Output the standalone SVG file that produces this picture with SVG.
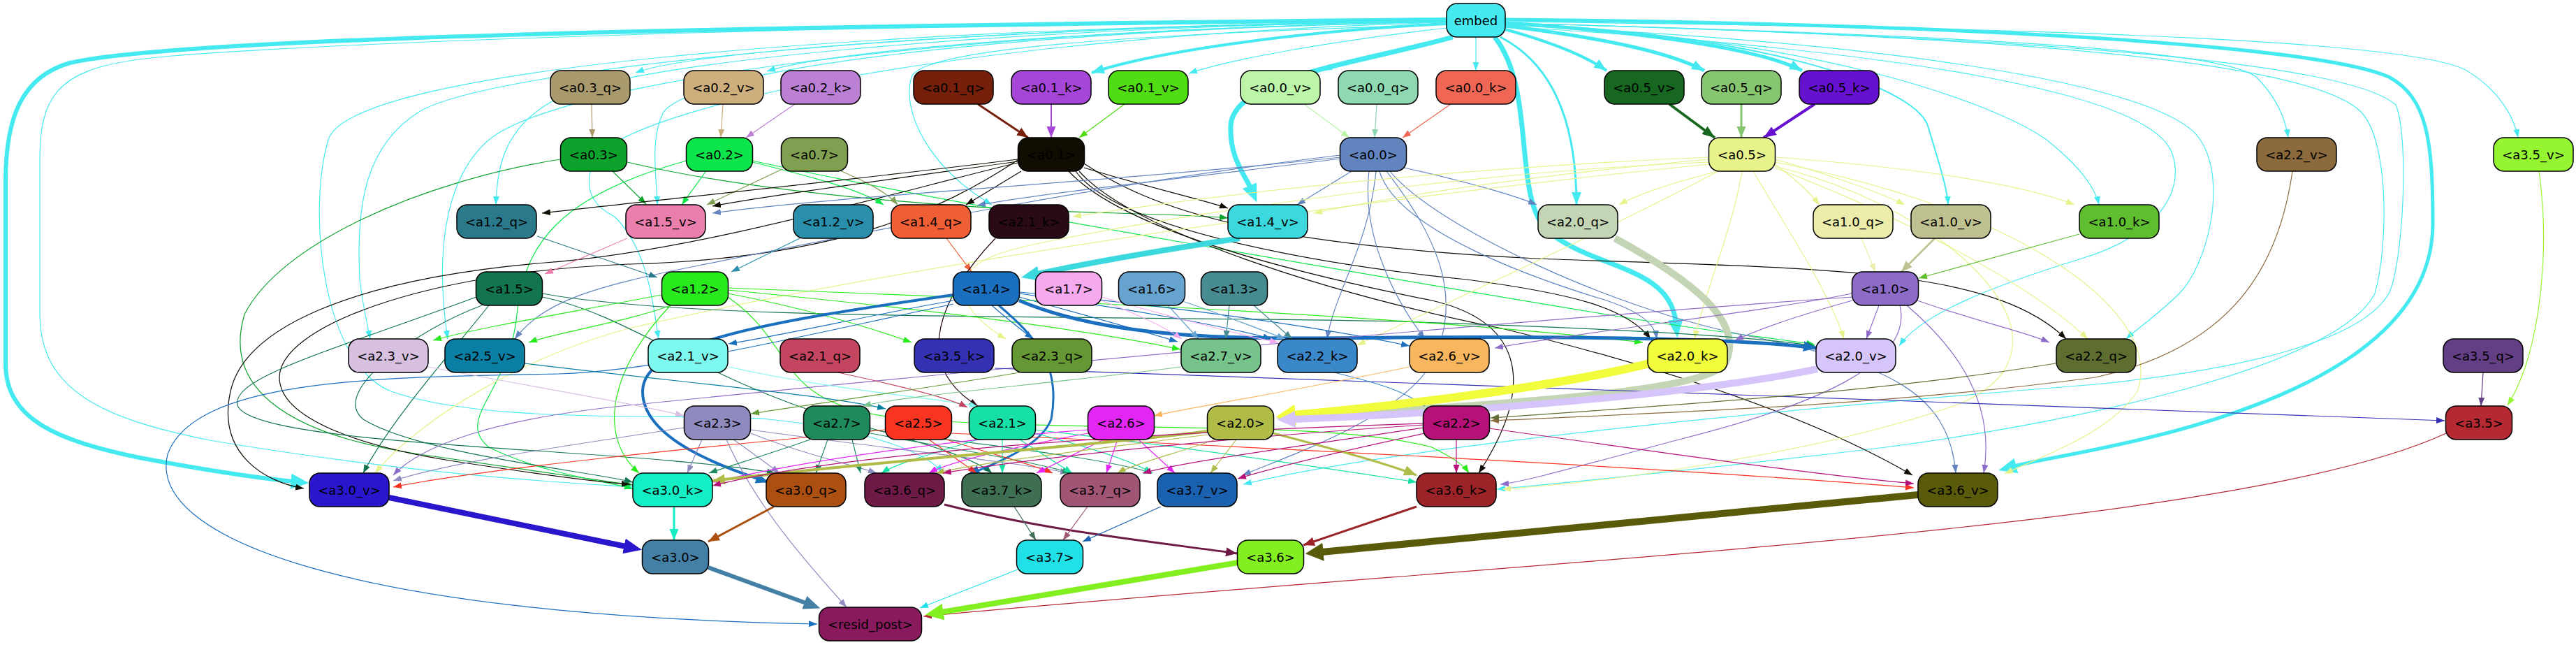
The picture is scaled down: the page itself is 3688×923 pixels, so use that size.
<svg xmlns="http://www.w3.org/2000/svg" width="3688" height="923" viewBox="0 0 3688 923">
<style>
.n rect{stroke:#000;stroke-width:1.5}
.n text{font-family:"DejaVu Sans","Liberation Sans",sans-serif;font-size:18px;text-anchor:middle;dominant-baseline:central;fill:#000}
</style>
<defs>
<marker id="s_embed" viewBox="0 0 10 10" refX="10" refY="5" markerWidth="12" markerHeight="9" markerUnits="userSpaceOnUse" orient="auto" preserveAspectRatio="none"><path d="M0,0L10,5L0,10z" fill="#45e9f0"/></marker>
<marker id="m_embed" viewBox="0 0 10 10" refX="10" refY="5" markerWidth="18" markerHeight="14" markerUnits="userSpaceOnUse" orient="auto" preserveAspectRatio="none"><path d="M0,0L10,5L0,10z" fill="#45e9f0"/></marker>
<marker id="l_embed" viewBox="0 0 10 10" refX="1" refY="5" markerWidth="26" markerHeight="22" markerUnits="userSpaceOnUse" orient="auto" preserveAspectRatio="none"><path d="M0,0L10,5L0,10z" fill="#45e9f0"/></marker>
<marker id="s_a03q" viewBox="0 0 10 10" refX="10" refY="5" markerWidth="12" markerHeight="9" markerUnits="userSpaceOnUse" orient="auto" preserveAspectRatio="none"><path d="M0,0L10,5L0,10z" fill="#a89a6c"/></marker>
<marker id="s_a02v" viewBox="0 0 10 10" refX="10" refY="5" markerWidth="12" markerHeight="9" markerUnits="userSpaceOnUse" orient="auto" preserveAspectRatio="none"><path d="M0,0L10,5L0,10z" fill="#cdae7d"/></marker>
<marker id="s_a02k" viewBox="0 0 10 10" refX="10" refY="5" markerWidth="12" markerHeight="9" markerUnits="userSpaceOnUse" orient="auto" preserveAspectRatio="none"><path d="M0,0L10,5L0,10z" fill="#bb7fd4"/></marker>
<marker id="m_a01q" viewBox="0 0 10 10" refX="10" refY="5" markerWidth="16" markerHeight="13" markerUnits="userSpaceOnUse" orient="auto" preserveAspectRatio="none"><path d="M0,0L10,5L0,10z" fill="#76200c"/></marker>
<marker id="m_a01k" viewBox="0 0 10 10" refX="10" refY="5" markerWidth="16" markerHeight="13" markerUnits="userSpaceOnUse" orient="auto" preserveAspectRatio="none"><path d="M0,0L10,5L0,10z" fill="#a646d9"/></marker>
<marker id="s_a01v" viewBox="0 0 10 10" refX="10" refY="5" markerWidth="12" markerHeight="9" markerUnits="userSpaceOnUse" orient="auto" preserveAspectRatio="none"><path d="M0,0L10,5L0,10z" fill="#50dd14"/></marker>
<marker id="s_a00v" viewBox="0 0 10 10" refX="10" refY="5" markerWidth="12" markerHeight="9" markerUnits="userSpaceOnUse" orient="auto" preserveAspectRatio="none"><path d="M0,0L10,5L0,10z" fill="#bcf4a8"/></marker>
<marker id="s_a00q" viewBox="0 0 10 10" refX="10" refY="5" markerWidth="12" markerHeight="9" markerUnits="userSpaceOnUse" orient="auto" preserveAspectRatio="none"><path d="M0,0L10,5L0,10z" fill="#8ed8b2"/></marker>
<marker id="s_a00k" viewBox="0 0 10 10" refX="10" refY="5" markerWidth="12" markerHeight="9" markerUnits="userSpaceOnUse" orient="auto" preserveAspectRatio="none"><path d="M0,0L10,5L0,10z" fill="#f06654"/></marker>
<marker id="m_a05v" viewBox="0 0 10 10" refX="10" refY="5" markerWidth="18" markerHeight="14" markerUnits="userSpaceOnUse" orient="auto" preserveAspectRatio="none"><path d="M0,0L10,5L0,10z" fill="#176721"/></marker>
<marker id="m_a05q" viewBox="0 0 10 10" refX="10" refY="5" markerWidth="16" markerHeight="13" markerUnits="userSpaceOnUse" orient="auto" preserveAspectRatio="none"><path d="M0,0L10,5L0,10z" fill="#86c670"/></marker>
<marker id="m_a05k" viewBox="0 0 10 10" refX="10" refY="5" markerWidth="18" markerHeight="14" markerUnits="userSpaceOnUse" orient="auto" preserveAspectRatio="none"><path d="M0,0L10,5L0,10z" fill="#6610d0"/></marker>
<marker id="s_a03" viewBox="0 0 10 10" refX="10" refY="5" markerWidth="12" markerHeight="9" markerUnits="userSpaceOnUse" orient="auto" preserveAspectRatio="none"><path d="M0,0L10,5L0,10z" fill="#0ca22c"/></marker>
<marker id="s_a02" viewBox="0 0 10 10" refX="10" refY="5" markerWidth="12" markerHeight="9" markerUnits="userSpaceOnUse" orient="auto" preserveAspectRatio="none"><path d="M0,0L10,5L0,10z" fill="#0ce64a"/></marker>
<marker id="s_a07" viewBox="0 0 10 10" refX="10" refY="5" markerWidth="12" markerHeight="9" markerUnits="userSpaceOnUse" orient="auto" preserveAspectRatio="none"><path d="M0,0L10,5L0,10z" fill="#819f51"/></marker>
<marker id="s_a01" viewBox="0 0 10 10" refX="10" refY="5" markerWidth="12" markerHeight="9" markerUnits="userSpaceOnUse" orient="auto" preserveAspectRatio="none"><path d="M0,0L10,5L0,10z" fill="#120d02"/></marker>
<marker id="s_a00" viewBox="0 0 10 10" refX="10" refY="5" markerWidth="12" markerHeight="9" markerUnits="userSpaceOnUse" orient="auto" preserveAspectRatio="none"><path d="M0,0L10,5L0,10z" fill="#6285c0"/></marker>
<marker id="s_a05" viewBox="0 0 10 10" refX="10" refY="5" markerWidth="12" markerHeight="9" markerUnits="userSpaceOnUse" orient="auto" preserveAspectRatio="none"><path d="M0,0L10,5L0,10z" fill="#e8f28a"/></marker>
<marker id="s_a22v" viewBox="0 0 10 10" refX="10" refY="5" markerWidth="12" markerHeight="9" markerUnits="userSpaceOnUse" orient="auto" preserveAspectRatio="none"><path d="M0,0L10,5L0,10z" fill="#8b6a3e"/></marker>
<marker id="s_a35v" viewBox="0 0 10 10" refX="10" refY="5" markerWidth="12" markerHeight="9" markerUnits="userSpaceOnUse" orient="auto" preserveAspectRatio="none"><path d="M0,0L10,5L0,10z" fill="#95f533"/></marker>
<marker id="s_a12q" viewBox="0 0 10 10" refX="10" refY="5" markerWidth="12" markerHeight="9" markerUnits="userSpaceOnUse" orient="auto" preserveAspectRatio="none"><path d="M0,0L10,5L0,10z" fill="#2a7a8b"/></marker>
<marker id="s_a15v" viewBox="0 0 10 10" refX="10" refY="5" markerWidth="12" markerHeight="9" markerUnits="userSpaceOnUse" orient="auto" preserveAspectRatio="none"><path d="M0,0L10,5L0,10z" fill="#ea7fae"/></marker>
<marker id="s_a12v" viewBox="0 0 10 10" refX="10" refY="5" markerWidth="12" markerHeight="9" markerUnits="userSpaceOnUse" orient="auto" preserveAspectRatio="none"><path d="M0,0L10,5L0,10z" fill="#2a8fab"/></marker>
<marker id="s_a14q" viewBox="0 0 10 10" refX="10" refY="5" markerWidth="12" markerHeight="9" markerUnits="userSpaceOnUse" orient="auto" preserveAspectRatio="none"><path d="M0,0L10,5L0,10z" fill="#f05e36"/></marker>
<marker id="s_a21k" viewBox="0 0 10 10" refX="10" refY="5" markerWidth="12" markerHeight="9" markerUnits="userSpaceOnUse" orient="auto" preserveAspectRatio="none"><path d="M0,0L10,5L0,10z" fill="#2a0a16"/></marker>
<marker id="l_a14v" viewBox="0 0 10 10" refX="1" refY="5" markerWidth="26" markerHeight="22" markerUnits="userSpaceOnUse" orient="auto" preserveAspectRatio="none"><path d="M0,0L10,5L0,10z" fill="#3bd8de"/></marker>
<marker id="l_a20q" viewBox="0 0 10 10" refX="1" refY="5" markerWidth="26" markerHeight="24" markerUnits="userSpaceOnUse" orient="auto" preserveAspectRatio="none"><path d="M0,0L10,5L0,10z" fill="#c4d5b6"/></marker>
<marker id="s_a10q" viewBox="0 0 10 10" refX="10" refY="5" markerWidth="12" markerHeight="9" markerUnits="userSpaceOnUse" orient="auto" preserveAspectRatio="none"><path d="M0,0L10,5L0,10z" fill="#ecedab"/></marker>
<marker id="m_a10v" viewBox="0 0 10 10" refX="10" refY="5" markerWidth="16" markerHeight="13" markerUnits="userSpaceOnUse" orient="auto" preserveAspectRatio="none"><path d="M0,0L10,5L0,10z" fill="#c0c190"/></marker>
<marker id="s_a10k" viewBox="0 0 10 10" refX="10" refY="5" markerWidth="12" markerHeight="9" markerUnits="userSpaceOnUse" orient="auto" preserveAspectRatio="none"><path d="M0,0L10,5L0,10z" fill="#5fbd30"/></marker>
<marker id="s_a15" viewBox="0 0 10 10" refX="10" refY="5" markerWidth="12" markerHeight="9" markerUnits="userSpaceOnUse" orient="auto" preserveAspectRatio="none"><path d="M0,0L10,5L0,10z" fill="#137550"/></marker>
<marker id="s_a12" viewBox="0 0 10 10" refX="10" refY="5" markerWidth="12" markerHeight="9" markerUnits="userSpaceOnUse" orient="auto" preserveAspectRatio="none"><path d="M0,0L10,5L0,10z" fill="#29ea1c"/></marker>
<marker id="s_a14" viewBox="0 0 10 10" refX="10" refY="5" markerWidth="12" markerHeight="9" markerUnits="userSpaceOnUse" orient="auto" preserveAspectRatio="none"><path d="M0,0L10,5L0,10z" fill="#1a6fbf"/></marker>
<marker id="m_a14" viewBox="0 0 10 10" refX="10" refY="5" markerWidth="18" markerHeight="15" markerUnits="userSpaceOnUse" orient="auto" preserveAspectRatio="none"><path d="M0,0L10,5L0,10z" fill="#1a6fbf"/></marker>
<marker id="s_a17" viewBox="0 0 10 10" refX="10" refY="5" markerWidth="12" markerHeight="9" markerUnits="userSpaceOnUse" orient="auto" preserveAspectRatio="none"><path d="M0,0L10,5L0,10z" fill="#f5a9ee"/></marker>
<marker id="s_a16" viewBox="0 0 10 10" refX="10" refY="5" markerWidth="12" markerHeight="9" markerUnits="userSpaceOnUse" orient="auto" preserveAspectRatio="none"><path d="M0,0L10,5L0,10z" fill="#66a3cf"/></marker>
<marker id="s_a13" viewBox="0 0 10 10" refX="10" refY="5" markerWidth="12" markerHeight="9" markerUnits="userSpaceOnUse" orient="auto" preserveAspectRatio="none"><path d="M0,0L10,5L0,10z" fill="#468c91"/></marker>
<marker id="s_a10" viewBox="0 0 10 10" refX="10" refY="5" markerWidth="12" markerHeight="9" markerUnits="userSpaceOnUse" orient="auto" preserveAspectRatio="none"><path d="M0,0L10,5L0,10z" fill="#8d6cc8"/></marker>
<marker id="s_a23v" viewBox="0 0 10 10" refX="10" refY="5" markerWidth="12" markerHeight="9" markerUnits="userSpaceOnUse" orient="auto" preserveAspectRatio="none"><path d="M0,0L10,5L0,10z" fill="#d7c0e0"/></marker>
<marker id="s_a25v" viewBox="0 0 10 10" refX="10" refY="5" markerWidth="12" markerHeight="9" markerUnits="userSpaceOnUse" orient="auto" preserveAspectRatio="none"><path d="M0,0L10,5L0,10z" fill="#0a7fa3"/></marker>
<marker id="s_a21v" viewBox="0 0 10 10" refX="10" refY="5" markerWidth="12" markerHeight="9" markerUnits="userSpaceOnUse" orient="auto" preserveAspectRatio="none"><path d="M0,0L10,5L0,10z" fill="#7ef9ef"/></marker>
<marker id="s_a21q" viewBox="0 0 10 10" refX="10" refY="5" markerWidth="12" markerHeight="9" markerUnits="userSpaceOnUse" orient="auto" preserveAspectRatio="none"><path d="M0,0L10,5L0,10z" fill="#c3455f"/></marker>
<marker id="s_a35k" viewBox="0 0 10 10" refX="10" refY="5" markerWidth="12" markerHeight="9" markerUnits="userSpaceOnUse" orient="auto" preserveAspectRatio="none"><path d="M0,0L10,5L0,10z" fill="#3531b3"/></marker>
<marker id="s_a23q" viewBox="0 0 10 10" refX="10" refY="5" markerWidth="12" markerHeight="9" markerUnits="userSpaceOnUse" orient="auto" preserveAspectRatio="none"><path d="M0,0L10,5L0,10z" fill="#659834"/></marker>
<marker id="s_a27v" viewBox="0 0 10 10" refX="10" refY="5" markerWidth="12" markerHeight="9" markerUnits="userSpaceOnUse" orient="auto" preserveAspectRatio="none"><path d="M0,0L10,5L0,10z" fill="#77c38c"/></marker>
<marker id="s_a22k" viewBox="0 0 10 10" refX="10" refY="5" markerWidth="12" markerHeight="9" markerUnits="userSpaceOnUse" orient="auto" preserveAspectRatio="none"><path d="M0,0L10,5L0,10z" fill="#3a87c9"/></marker>
<marker id="s_a26v" viewBox="0 0 10 10" refX="10" refY="5" markerWidth="12" markerHeight="9" markerUnits="userSpaceOnUse" orient="auto" preserveAspectRatio="none"><path d="M0,0L10,5L0,10z" fill="#f8b65e"/></marker>
<marker id="l_a20k" viewBox="0 0 10 10" refX="1" refY="5" markerWidth="28" markerHeight="30" markerUnits="userSpaceOnUse" orient="auto" preserveAspectRatio="none"><path d="M0,0L10,5L0,10z" fill="#f0fc3c"/></marker>
<marker id="l_a20v" viewBox="0 0 10 10" refX="1" refY="5" markerWidth="26" markerHeight="24" markerUnits="userSpaceOnUse" orient="auto" preserveAspectRatio="none"><path d="M0,0L10,5L0,10z" fill="#d6c5fa"/></marker>
<marker id="s_a22q" viewBox="0 0 10 10" refX="10" refY="5" markerWidth="12" markerHeight="9" markerUnits="userSpaceOnUse" orient="auto" preserveAspectRatio="none"><path d="M0,0L10,5L0,10z" fill="#5e6e31"/></marker>
<marker id="s_a35q" viewBox="0 0 10 10" refX="10" refY="5" markerWidth="12" markerHeight="9" markerUnits="userSpaceOnUse" orient="auto" preserveAspectRatio="none"><path d="M0,0L10,5L0,10z" fill="#633f86"/></marker>
<marker id="s_a23" viewBox="0 0 10 10" refX="10" refY="5" markerWidth="12" markerHeight="9" markerUnits="userSpaceOnUse" orient="auto" preserveAspectRatio="none"><path d="M0,0L10,5L0,10z" fill="#8f8bbf"/></marker>
<marker id="s_a27" viewBox="0 0 10 10" refX="10" refY="5" markerWidth="12" markerHeight="9" markerUnits="userSpaceOnUse" orient="auto" preserveAspectRatio="none"><path d="M0,0L10,5L0,10z" fill="#1f8a5c"/></marker>
<marker id="s_a25" viewBox="0 0 10 10" refX="10" refY="5" markerWidth="12" markerHeight="9" markerUnits="userSpaceOnUse" orient="auto" preserveAspectRatio="none"><path d="M0,0L10,5L0,10z" fill="#f93522"/></marker>
<marker id="s_a21" viewBox="0 0 10 10" refX="10" refY="5" markerWidth="12" markerHeight="9" markerUnits="userSpaceOnUse" orient="auto" preserveAspectRatio="none"><path d="M0,0L10,5L0,10z" fill="#16e0a6"/></marker>
<marker id="s_a26" viewBox="0 0 10 10" refX="10" refY="5" markerWidth="12" markerHeight="9" markerUnits="userSpaceOnUse" orient="auto" preserveAspectRatio="none"><path d="M0,0L10,5L0,10z" fill="#e326f4"/></marker>
<marker id="s_a20" viewBox="0 0 10 10" refX="10" refY="5" markerWidth="12" markerHeight="9" markerUnits="userSpaceOnUse" orient="auto" preserveAspectRatio="none"><path d="M0,0L10,5L0,10z" fill="#b0bb48"/></marker>
<marker id="m_a20" viewBox="0 0 10 10" refX="10" refY="5" markerWidth="18" markerHeight="15" markerUnits="userSpaceOnUse" orient="auto" preserveAspectRatio="none"><path d="M0,0L10,5L0,10z" fill="#b0bb48"/></marker>
<marker id="s_a22" viewBox="0 0 10 10" refX="10" refY="5" markerWidth="12" markerHeight="9" markerUnits="userSpaceOnUse" orient="auto" preserveAspectRatio="none"><path d="M0,0L10,5L0,10z" fill="#b51178"/></marker>
<marker id="s_a35" viewBox="0 0 10 10" refX="10" refY="5" markerWidth="12" markerHeight="9" markerUnits="userSpaceOnUse" orient="auto" preserveAspectRatio="none"><path d="M0,0L10,5L0,10z" fill="#b42932"/></marker>
<marker id="l_a30v" viewBox="0 0 10 10" refX="1" refY="5" markerWidth="26" markerHeight="22" markerUnits="userSpaceOnUse" orient="auto" preserveAspectRatio="none"><path d="M0,0L10,5L0,10z" fill="#2a16cc"/></marker>
<marker id="m_a30k" viewBox="0 0 10 10" refX="10" refY="5" markerWidth="16" markerHeight="13" markerUnits="userSpaceOnUse" orient="auto" preserveAspectRatio="none"><path d="M0,0L10,5L0,10z" fill="#14eec4"/></marker>
<marker id="m_a30q" viewBox="0 0 10 10" refX="10" refY="5" markerWidth="16" markerHeight="13" markerUnits="userSpaceOnUse" orient="auto" preserveAspectRatio="none"><path d="M0,0L10,5L0,10z" fill="#ac5012"/></marker>
<marker id="m_a36q" viewBox="0 0 10 10" refX="10" refY="5" markerWidth="16" markerHeight="13" markerUnits="userSpaceOnUse" orient="auto" preserveAspectRatio="none"><path d="M0,0L10,5L0,10z" fill="#6e1a46"/></marker>
<marker id="m_a36k" viewBox="0 0 10 10" refX="10" refY="5" markerWidth="16" markerHeight="13" markerUnits="userSpaceOnUse" orient="auto" preserveAspectRatio="none"><path d="M0,0L10,5L0,10z" fill="#9c2428"/></marker>
<marker id="l_a36v" viewBox="0 0 10 10" refX="1" refY="5" markerWidth="26" markerHeight="26" markerUnits="userSpaceOnUse" orient="auto" preserveAspectRatio="none"><path d="M0,0L10,5L0,10z" fill="#5a5a0b"/></marker>
<marker id="s_a37k" viewBox="0 0 10 10" refX="10" refY="5" markerWidth="12" markerHeight="9" markerUnits="userSpaceOnUse" orient="auto" preserveAspectRatio="none"><path d="M0,0L10,5L0,10z" fill="#3f6f53"/></marker>
<marker id="s_a37q" viewBox="0 0 10 10" refX="10" refY="5" markerWidth="12" markerHeight="9" markerUnits="userSpaceOnUse" orient="auto" preserveAspectRatio="none"><path d="M0,0L10,5L0,10z" fill="#a05575"/></marker>
<marker id="s_a37v" viewBox="0 0 10 10" refX="10" refY="5" markerWidth="12" markerHeight="9" markerUnits="userSpaceOnUse" orient="auto" preserveAspectRatio="none"><path d="M0,0L10,5L0,10z" fill="#1a61b0"/></marker>
<marker id="l_a30" viewBox="0 0 10 10" refX="1" refY="5" markerWidth="24" markerHeight="20" markerUnits="userSpaceOnUse" orient="auto" preserveAspectRatio="none"><path d="M0,0L10,5L0,10z" fill="#4480a5"/></marker>
<marker id="s_a37" viewBox="0 0 10 10" refX="10" refY="5" markerWidth="12" markerHeight="9" markerUnits="userSpaceOnUse" orient="auto" preserveAspectRatio="none"><path d="M0,0L10,5L0,10z" fill="#21e1e8"/></marker>
<marker id="l_a36" viewBox="0 0 10 10" refX="1" refY="5" markerWidth="26" markerHeight="24" markerUnits="userSpaceOnUse" orient="auto" preserveAspectRatio="none"><path d="M0,0L10,5L0,10z" fill="#84ef20"/></marker>
</defs>
<rect width="3688" height="923" fill="#ffffff"/>
<g id="connectors" fill="none" stroke-width="1.2">
<!-- embed -->
<path d="M2071,28 C1000,38 250,55 100,90 C30,110 8,170 8,260 L8,520 C8,600 80,630 200,655 C300,674 360,683 419,689" stroke="#45e9f0" stroke-width="6" marker-end="url(#l_embed)"/>
<path d="M2155,28 C2900,35 3330,70 3420,110 C3475,140 3483,200 3483,320 C3483,470 3320,560 3120,615 C3010,645 2930,655 2884,667" stroke="#45e9f0" stroke-width="5" marker-end="url(#l_embed)"/>
<path d="M2080,53 C1950,90 1765,110 1762,180 C1760,225 1782,250 1790,268" stroke="#45e9f0" stroke-width="7" marker-end="url(#l_embed)"/>
<path d="M2140,53 C2200,130 2165,280 2215,330 C2280,385 2390,380 2399,460" stroke="#45e9f0" stroke-width="7" marker-end="url(#l_embed)"/>
<path d="M2148,53 C2220,90 2257,170 2257,293" stroke="#45e9f0" stroke-width="3" marker-end="url(#m_embed)"/>
<path d="M2155,42 C2220,60 2270,80 2300,101" stroke="#45e9f0" stroke-width="4" marker-end="url(#m_embed)"/>
<path d="M2155,37 C2300,55 2390,75 2440,101" stroke="#45e9f0" stroke-width="5" marker-end="url(#m_embed)"/>
<path d="M2155,33 C2350,45 2520,70 2580,101" stroke="#45e9f0" stroke-width="5" marker-end="url(#m_embed)"/>
<path d="M2113,53 L2113,101" stroke="#45e9f0" marker-end="url(#s_embed)"/>
<path d="M2075,53 C2000,70 1930,85 1895,101" stroke="#45e9f0" marker-end="url(#s_embed)"/>
<path d="M2071,40 C1900,60 1760,85 1702,105" stroke="#45e9f0" marker-end="url(#s_embed)"/>
<path d="M2071,34 C1850,45 1650,75 1563,104" stroke="#45e9f0" stroke-width="4" marker-end="url(#m_embed)"/>
<path d="M2071,31 C1600,40 1200,70 1098,102" stroke="#45e9f0" marker-end="url(#s_embed)"/>
<path d="M2071,30 C1500,38 1000,70 910,104" stroke="#45e9f0" marker-end="url(#s_embed)"/>
<path d="M2071,30 C1400,40 900,90 800,140 C720,180 712,240 710,293" stroke="#45e9f0" marker-end="url(#s_embed)"/>
<path d="M2071,31 C1400,45 1000,100 950,160 C930,200 940,250 941,293" stroke="#45e9f0" marker-end="url(#s_embed)"/>
<path d="M2071,30 C1300,38 700,100 600,160 C520,210 510,300 515,400 C520,440 525,460 530,485" stroke="#45e9f0" marker-end="url(#s_embed)"/>
<path d="M2071,31 C1300,45 800,120 700,200 C630,260 625,380 641,485" stroke="#45e9f0" marker-end="url(#s_embed)"/>
<path d="M2071,32 C1400,50 900,150 850,230 C830,280 860,300 880,310 C930,360 935,440 943,485" stroke="#45e9f0" marker-end="url(#s_embed)"/>
<path d="M2071,29 C1000,36 300,70 200,85 C80,100 57,140 57,230 L57,450 C57,560 150,600 300,630 C600,680 800,690 906,697" stroke="#45e9f0" marker-end="url(#s_embed)"/>
<path d="M2071,30 C1200,40 500,100 470,200 C440,300 460,520 560,560 C700,610 1000,590 1100,600 C1250,615 1330,650 1350,677" stroke="#45e9f0" marker-end="url(#s_embed)"/>
<path d="M2071,35 C1600,50 1320,70 1305,110 C1290,160 1330,240 1420,293" stroke="#45e9f0" marker-end="url(#s_embed)"/>
<path d="M2155,34 C2500,45 2740,120 2760,180 C2775,230 2788,270 2789,293" stroke="#45e9f0" stroke-width="2" marker-end="url(#s_embed)"/>
<path d="M2155,36 C2600,50 2860,150 2930,200 C2980,240 3000,270 3005,293" stroke="#45e9f0" marker-end="url(#s_embed)"/>
<path d="M2155,33 C2800,50 3180,70 3230,110 C3260,140 3272,170 3276,197" stroke="#45e9f0" marker-end="url(#s_embed)"/>
<path d="M2155,31 C3000,40 3450,60 3530,100 C3580,130 3600,170 3605,197" stroke="#45e9f0" marker-end="url(#s_embed)"/>
<path d="M2155,36 C2700,60 3100,120 3150,200 C3190,260 3160,380 3120,420 C3090,450 3060,470 3044,485" stroke="#45e9f0" marker-end="url(#s_embed)"/>
<path d="M2155,38 C2700,70 3080,130 3110,220 C3130,280 3080,340 2980,370 C2850,410 2750,450 2719,495" stroke="#45e9f0" marker-end="url(#s_embed)"/>
<path d="M2155,33 C2800,50 3300,80 3380,160 C3420,200 3420,350 3400,420 C3350,520 3000,600 2700,640 C2450,670 2250,690 2143,700" stroke="#45e9f0" marker-end="url(#s_embed)"/>
<path d="M2155,33 C2800,50 3350,80 3430,150 C3450,200 3440,380 3420,420 C3380,490 3200,530 3000,550 C2500,590 2000,640 1780,693" stroke="#45e9f0" marker-end="url(#s_embed)"/>
<!-- row1 -> row2 -->
<path d="M847,149 L848,197" stroke="#a89a6c" marker-end="url(#s_a03q)"/>
<path d="M1035,149 L1032,197" stroke="#cdae7d" marker-end="url(#s_a02v)"/>
<path d="M1138,149 L1068,197" stroke="#bb7fd4" marker-end="url(#s_a02k)"/>
<path d="M1400,149 L1472,197" stroke="#76200c" stroke-width="3" marker-end="url(#m_a01q)"/>
<path d="M1505,149 L1505,197" stroke="#a646d9" stroke-width="2" marker-end="url(#m_a01k)"/>
<path d="M1610,149 L1545,197" stroke="#50dd14" marker-end="url(#s_a01v)"/>
<path d="M1867,149 L1932,197" stroke="#bcf4a8" marker-end="url(#s_a00v)"/>
<path d="M1971,149 L1968,197" stroke="#8ed8b2" marker-end="url(#s_a00q)"/>
<path d="M2077,149 L2008,197" stroke="#f06654" marker-end="url(#s_a00k)"/>
<path d="M2390,149 L2455,197" stroke="#176721" stroke-width="4" marker-end="url(#m_a05v)"/>
<path d="M2493,149 L2493,197" stroke="#86c670" stroke-width="3" marker-end="url(#m_a05q)"/>
<path d="M2598,149 L2525,197" stroke="#6610d0" stroke-width="4" marker-end="url(#m_a05k)"/>
<!-- a0.3 -->
<path d="M877,245 L925,292" stroke="#0ca22c" marker-end="url(#s_a03)"/>
<path d="M802,228 C600,260 400,350 350,450 C320,550 400,620 600,650 C750,672 850,685 906,694" stroke="#0ca22c" marker-end="url(#s_a03)"/>
<path d="M898,232 C1100,280 1400,300 1600,305 C1700,308 1740,310 1758,312" stroke="#0ca22c" marker-end="url(#s_a03)"/>
<!-- a0.2 -->
<path d="M1010,246 L976,293" stroke="#0ce64a" marker-end="url(#s_a02)"/>
<path d="M1077,232 C1150,250 1230,270 1265,293" stroke="#0ce64a" marker-end="url(#s_a02)"/>
<path d="M983,230 C800,280 750,350 740,450 C730,560 650,600 700,640 C780,680 880,690 906,700" stroke="#0ce64a" marker-end="url(#s_a02)"/>
<path d="M1077,230 C1400,300 2000,400 2300,450 C2450,475 2550,485 2598,493" stroke="#0ce64a" marker-end="url(#s_a02)"/>
<!-- a0.7 -->
<path d="M1120,242 L1012,293" stroke="#819f51" marker-end="url(#s_a07)"/>
<path d="M1200,243 C1240,260 1270,275 1285,293" stroke="#819f51" marker-end="url(#s_a07)"/>
<!-- a0.1 -->
<path d="M1457,228 C1200,260 950,285 776,305" stroke="#120d02" marker-end="url(#s_a01)"/>
<path d="M1457,231 C1250,260 1100,280 1020,295" stroke="#120d02" marker-end="url(#s_a01)"/>
<path d="M1462,245 L1383,293" stroke="#120d02" marker-end="url(#s_a01)"/>
<path d="M1552,240 C1650,270 1720,285 1758,298" stroke="#120d02" marker-end="url(#s_a01)"/>
<path d="M1540,245 C1600,330 1900,380 2100,400 C2250,420 2330,440 2363,485" stroke="#120d02" marker-end="url(#s_a01)"/>
<path d="M1552,234 C1650,300 1800,350 2200,370 C2600,385 2850,380 2958,485" stroke="#120d02" marker-end="url(#s_a01)"/>
<path d="M1457,233 C1300,270 1000,360 780,376 C500,400 350,470 330,560 C310,650 380,690 435,699" stroke="#120d02" marker-end="url(#s_a01)"/>
<path d="M1457,229 C1350,300 1200,370 900,378 C600,390 400,470 400,540 C400,600 520,640 650,660 C780,680 860,690 902,693" stroke="#120d02" marker-end="url(#s_a01)"/>
<path d="M1530,245 C1600,320 1800,380 2050,430 C2180,460 2200,550 2117,677" stroke="#120d02" marker-end="url(#s_a01)"/>
<path d="M1545,245 C1620,330 1900,420 2150,470 C2400,530 2600,600 2738,680" stroke="#120d02" marker-end="url(#s_a01)"/>
<!-- a0.0 -->
<path d="M1919,225 C1600,260 1200,280 1020,305" stroke="#6285c0" marker-end="url(#s_a00)"/>
<path d="M1919,227 C1700,255 1500,275 1399,294" stroke="#6285c0" marker-end="url(#s_a00)"/>
<path d="M1935,245 L1857,293" stroke="#6285c0" marker-end="url(#s_a00)"/>
<path d="M2010,240 C2100,260 2170,280 2200,293" stroke="#6285c0" marker-end="url(#s_a00)"/>
<path d="M1975,245 C2000,330 2200,400 2300,430 C2360,450 2370,470 2372,485" stroke="#6285c0" marker-end="url(#s_a00)"/>
<path d="M1960,245 C1950,330 1990,420 2040,485" stroke="#6285c0" marker-end="url(#s_a00)"/>
<path d="M1990,245 C2050,320 2300,440 2500,480 C2700,520 2790,560 2800,677" stroke="#6285c0" marker-end="url(#s_a00)"/>
<path d="M1985,245 C2050,330 2100,420 2050,520 C2000,600 1850,650 1779,680" stroke="#6285c0" marker-end="url(#s_a00)"/>
<path d="M1919,222 C1600,260 1300,320 1000,380 C850,410 780,430 737,485" stroke="#6285c0" marker-end="url(#s_a00)"/>
<path d="M1970,245 C1960,350 1910,420 1900,485" stroke="#6285c0" marker-end="url(#s_a00)"/>
<!-- a0.5 -->
<path d="M2541,235 C2570,255 2590,275 2605,293" stroke="#e8f28a" marker-end="url(#s_a05)"/>
<path d="M2541,228 C2620,250 2690,275 2727,293" stroke="#e8f28a" marker-end="url(#s_a05)"/>
<path d="M2541,225 C2750,240 2900,265 2970,293" stroke="#e8f28a" marker-end="url(#s_a05)"/>
<path d="M2460,245 C2400,260 2350,275 2318,293" stroke="#e8f28a" marker-end="url(#s_a05)"/>
<path d="M2447,228 C2200,250 2000,280 1881,305" stroke="#e8f28a" marker-end="url(#s_a05)"/>
<path d="M2447,225 C2100,240 1800,270 1536,310" stroke="#e8f28a" marker-end="url(#s_a05)"/>
<path d="M2494,245 C2480,330 2440,420 2426,485" stroke="#e8f28a" marker-end="url(#s_a05)"/>
<path d="M2460,245 C2300,330 2100,420 1943,494" stroke="#e8f28a" marker-end="url(#s_a05)"/>
<path d="M2447,232 C2000,250 1500,340 1440,360 C1340,390 1380,450 1440,485" stroke="#e8f28a" marker-end="url(#s_a05)"/>
<path d="M2510,245 C2560,330 2620,420 2640,485" stroke="#e8f28a" marker-end="url(#s_a05)"/>
<path d="M2541,240 C2700,300 2900,400 2989,485" stroke="#e8f28a" marker-end="url(#s_a05)"/>
<path d="M2541,238 C2800,300 3000,500 2800,580 C2600,650 2300,690 2151,700" stroke="#e8f28a" marker-end="url(#s_a05)"/>
<path d="M2541,232 C2900,300 3100,450 3060,560 C3020,620 2930,650 2870,678" stroke="#e8f28a" marker-end="url(#s_a05)"/>
<path d="M2447,235 C1800,300 1200,400 900,470 C750,510 600,600 537,677" stroke="#e8f28a" marker-end="url(#s_a05)"/>
<!-- a2.2_v, a3.5_v -->
<path d="M3282,245 C3260,400 3180,500 3000,540 C2700,580 2400,590 2134,602" stroke="#8b6a3e" marker-end="url(#s_a22v)"/>
<path d="M3635,245 C3650,350 3640,500 3590,580" stroke="#95f533" marker-end="url(#s_a35v)"/>
<!-- row3 -> row4 -->
<path d="M769,338 L941,397" stroke="#2a7a8b" marker-end="url(#s_a12q)"/>
<path d="M898,341 L780,392" stroke="#ea7fae" marker-end="url(#s_a15v)"/>
<path d="M1145,341 L1047,389" stroke="#2a8fab" marker-end="url(#s_a12v)"/>
<path d="M1355,341 L1391,389" stroke="#f05e36" marker-end="url(#s_a14q)"/>
<path d="M1425,341 C1350,420 1300,520 1400,581" stroke="#2a0a16" marker-end="url(#s_a21k)"/>
<path d="M1775,341 C1650,360 1550,378 1485,392" stroke="#3bd8de" stroke-width="8" marker-end="url(#l_a14v)"/>
<path d="M2312,341 C2420,400 2500,460 2470,520 C2440,565 2100,580 1851,597" stroke="#c4d5b6" stroke-width="10" marker-end="url(#l_a20q)"/>
<path d="M2665,341 L2685,389" stroke="#ecedab" marker-end="url(#s_a10q)"/>
<path d="M2770,341 L2722,389" stroke="#c0c190" stroke-width="2.5" marker-end="url(#m_a10v)"/>
<path d="M2977,335 L2747,398" stroke="#5fbd30" marker-end="url(#s_a10k)"/>
<!-- a1.5 -->
<path d="M690,437 C600,470 470,560 520,600 C600,650 850,675 906,690" stroke="#137550" marker-end="url(#s_a15)"/>
<path d="M682,425 C480,500 330,540 340,580 C360,640 900,640 1110,677" stroke="#137550" marker-end="url(#s_a15)"/>
<path d="M776,425 C900,450 1000,540 1200,600 C1350,640 1400,660 1420,677" stroke="#137550" marker-end="url(#s_a15)"/>
<path d="M776,420 C1000,460 1500,450 2000,460 C2300,470 2500,480 2598,495" stroke="#137550" marker-end="url(#s_a15)"/>
<path d="M700,437 C650,500 560,600 520,677" stroke="#137550" marker-end="url(#s_a15)"/>
<!-- a1.2 -->
<path d="M947,422 C800,450 680,470 620,487" stroke="#29ea1c" marker-end="url(#s_a12)"/>
<path d="M960,437 C900,460 800,475 757,490" stroke="#29ea1c" marker-end="url(#s_a12)"/>
<path d="M1042,420 C1150,440 1250,470 1305,490" stroke="#29ea1c" marker-end="url(#s_a12)"/>
<path d="M1042,415 C1300,440 1550,470 1690,500" stroke="#29ea1c" marker-end="url(#s_a12)"/>
<path d="M1042,412 C1500,430 2000,450 2352,490" stroke="#29ea1c" marker-end="url(#s_a12)"/>
<path d="M960,437 C880,520 850,620 915,677" stroke="#29ea1c" marker-end="url(#s_a12)"/>
<path d="M1042,425 C1150,500 1100,580 1300,600 C1600,620 1900,600 2050,640 C2080,655 2095,665 2103,677" stroke="#29ea1c" marker-end="url(#s_a12)"/>
<!-- a1.4 -->
<path d="M1459,430 C1600,490 1800,485 2000,483 C2300,481 2500,485 2600,498" stroke="#1a6fbf" stroke-width="5" marker-end="url(#m_a14)"/>
<path d="M1365,422 C1100,460 920,490 920,560 C920,630 1040,670 1100,690" stroke="#1a6fbf" stroke-width="4" marker-end="url(#m_a14)"/>
<path d="M1430,437 C1480,480 1520,520 1505,600 C1490,640 1420,665 1385,680" stroke="#1a6fbf" stroke-width="3" marker-end="url(#m_a14)"/>
<path d="M1365,435 C1150,480 950,530 800,535 C550,540 280,540 240,650 C210,770 500,880 1170,893" stroke="#1a6fbf" marker-end="url(#s_a14)"/>
<path d="M1420,437 C1440,455 1460,470 1479,485" stroke="#1a6fbf" marker-end="url(#s_a14)"/>
<path d="M1459,425 C1550,450 1640,475 1686,489" stroke="#1a6fbf" marker-end="url(#s_a14)"/>
<path d="M1459,420 C1600,440 1750,465 1820,485" stroke="#1a6fbf" marker-end="url(#s_a14)"/>
<path d="M1459,418 C1700,440 1900,470 2018,495" stroke="#1a6fbf" marker-end="url(#s_a14)"/>
<path d="M1365,430 C1250,450 1120,480 1043,492" stroke="#1a6fbf" marker-end="url(#s_a14)"/>
<!-- a1.7 a1.6 a1.3 -->
<path d="M1577,430 C1630,450 1670,470 1692,485" stroke="#f5a9ee" marker-end="url(#s_a17)"/>
<path d="M1577,425 C1700,460 1780,480 1830,490" stroke="#f5a9ee" marker-end="url(#s_a17)"/>
<path d="M1672,437 L1716,485" stroke="#66a3cf" marker-end="url(#s_a16)"/>
<path d="M1690,430 C1750,450 1800,470 1840,485" stroke="#66a3cf" marker-end="url(#s_a16)"/>
<path d="M1760,437 L1755,485" stroke="#468c91" marker-end="url(#s_a13)"/>
<path d="M1795,437 L1850,485" stroke="#468c91" marker-end="url(#s_a13)"/>
<!-- a1.0 -->
<path d="M2690,437 L2672,485" stroke="#8d6cc8" marker-end="url(#s_a10)"/>
<path d="M2745,430 C2830,460 2900,475 2934,490" stroke="#8d6cc8" marker-end="url(#s_a10)"/>
<path d="M2652,430 C2580,450 2520,470 2484,487" stroke="#8d6cc8" marker-end="url(#s_a10)"/>
<path d="M2652,420 C2500,450 2300,470 2140,498" stroke="#8d6cc8" marker-end="url(#s_a10)"/>
<path d="M2730,437 C2780,480 2860,560 2840,677" stroke="#8d6cc8" marker-end="url(#s_a10)"/>
<path d="M2720,437 C2740,520 2600,580 2400,630 C2250,670 2180,690 2148,693" stroke="#8d6cc8" marker-end="url(#s_a10)"/>
<path d="M2652,425 C2000,470 1200,550 900,580 C700,600 600,640 563,680" stroke="#8d6cc8" marker-end="url(#s_a10)"/>
<!-- row5 -> row6 -->
<path d="M613,525 C800,560 920,580 979,595" stroke="#d7c0e0" marker-end="url(#s_a23v)"/>
<path d="M751,520 C1000,550 1180,565 1268,585" stroke="#0a7fa3" marker-end="url(#s_a25v)"/>
<path d="M1043,525 C1200,560 1350,570 1400,582" stroke="#7ef9ef" marker-end="url(#s_a21v)"/>
<path d="M1200,533 C1300,555 1360,570 1385,583" stroke="#c3455f" marker-end="url(#s_a21q)"/>
<path d="M1424,527 C2000,550 3000,580 3500,602" stroke="#3531b3" marker-end="url(#s_a35k)"/>
<path d="M1460,533 C1300,560 1150,580 1075,592" stroke="#659834" marker-end="url(#s_a23q)"/>
<path d="M1691,525 C1500,550 1300,565 1235,581" stroke="#77c38c" marker-end="url(#s_a27v)"/>
<path d="M1910,533 C1980,550 2010,560 2040,581" stroke="#3a87c9" marker-end="url(#s_a22k)"/>
<path d="M2018,525 C1850,560 1720,580 1652,595" stroke="#f8b65e" marker-end="url(#s_a26v)"/>
<path d="M2362,520 C2200,560 1950,585 1852,594" stroke="#f0fc3c" stroke-width="12" marker-end="url(#l_a20k)"/>
<path d="M2602,528 C2400,570 2000,595 1852,600" stroke="#d6c5fa" stroke-width="10" marker-end="url(#l_a20v)"/>
<path d="M2943,520 C2700,560 2400,580 2134,598" stroke="#5e6e31" marker-end="url(#s_a22q)"/>
<path d="M3555,533 L3552,581" stroke="#633f86" marker-end="url(#s_a35q)"/>
<!-- a2.3 -->
<path d="M1005,629 L984,677" stroke="#8f8bbf" marker-end="url(#s_a23)"/>
<path d="M979,612 C800,640 650,660 563,688" stroke="#8f8bbf" marker-end="url(#s_a23)"/>
<path d="M1050,629 C1080,650 1100,665 1116,677" stroke="#8f8bbf" marker-end="url(#s_a23)"/>
<path d="M1075,620 C1150,650 1220,665 1255,677" stroke="#8f8bbf" marker-end="url(#s_a23)"/>
<path d="M1075,615 C1250,640 1450,660 1530,677" stroke="#8f8bbf" marker-end="url(#s_a23)"/>
<path d="M1040,629 C1080,720 1150,800 1212,869" stroke="#8f8bbf" marker-end="url(#s_a23)"/>
<!-- a2.7 -->
<path d="M1160,629 C1100,650 1050,665 1015,677" stroke="#1f8a5c" marker-end="url(#s_a27)"/>
<path d="M1185,629 L1168,677" stroke="#1f8a5c" marker-end="url(#s_a27)"/>
<path d="M1220,629 L1232,677" stroke="#1f8a5c" marker-end="url(#s_a27)"/>
<path d="M1246,620 C1350,640 1480,660 1533,677" stroke="#1f8a5c" marker-end="url(#s_a27)"/>
<path d="M1246,615 C1400,635 1580,655 1650,677" stroke="#1f8a5c" marker-end="url(#s_a27)"/>
<!-- a2.5 -->
<path d="M1268,615 C1000,640 700,670 563,697" stroke="#f93522" marker-end="url(#s_a25)"/>
<path d="M1330,629 L1398,677" stroke="#f93522" marker-end="url(#s_a25)"/>
<path d="M1355,629 C1420,650 1480,665 1507,677" stroke="#f93522" marker-end="url(#s_a25)"/>
<path d="M1362,620 C1800,640 2400,670 2740,698" stroke="#f93522" marker-end="url(#s_a25)"/>
<!-- a2.1 -->
<path d="M1435,629 L1435,677" stroke="#16e0a6" marker-end="url(#s_a21)"/>
<path d="M1400,629 C1330,650 1280,665 1262,677" stroke="#16e0a6" marker-end="url(#s_a21)"/>
<path d="M1460,629 L1535,677" stroke="#16e0a6" marker-end="url(#s_a21)"/>
<path d="M1482,620 C1560,640 1620,660 1650,677" stroke="#16e0a6" marker-end="url(#s_a21)"/>
<path d="M1482,615 C1700,640 1900,670 2028,690" stroke="#16e0a6" marker-end="url(#s_a21)"/>
<!-- a2.6 -->
<path d="M1580,629 L1484,677" stroke="#e326f4" marker-end="url(#s_a26)"/>
<path d="M1600,629 L1584,677" stroke="#e326f4" marker-end="url(#s_a26)"/>
<path d="M1630,629 L1682,677" stroke="#e326f4" marker-end="url(#s_a26)"/>
<path d="M1558,620 C1450,640 1360,660 1330,677" stroke="#e326f4" marker-end="url(#s_a26)"/>
<path d="M1558,615 C1350,630 1150,660 1020,690" stroke="#e326f4" marker-end="url(#s_a26)"/>
<!-- a2.0 -->
<path d="M1729,617 C1550,640 1300,655 1020,688" stroke="#b0bb48" stroke-width="4" marker-end="url(#m_a20)"/>
<path d="M1823,620 C1900,640 1990,665 2028,680" stroke="#b0bb48" stroke-width="3" marker-end="url(#m_a20)"/>
<path d="M1770,629 L1733,677" stroke="#b0bb48" marker-end="url(#s_a20)"/>
<path d="M1740,629 C1680,650 1620,665 1600,677" stroke="#b0bb48" marker-end="url(#s_a20)"/>
<path d="M1729,622 C1550,645 1400,662 1340,677" stroke="#b0bb48" marker-end="url(#s_a20)"/>
<!-- a2.2 -->
<path d="M2085,629 L2085,677" stroke="#b51178" marker-end="url(#s_a22)"/>
<path d="M2132,613 C2400,650 2600,680 2740,692" stroke="#b51178" marker-end="url(#s_a22)"/>
<path d="M2040,620 C1900,650 1820,670 1772,685" stroke="#b51178" marker-end="url(#s_a22)"/>
<path d="M2038,612 C1850,640 1700,660 1636,677" stroke="#b51178" marker-end="url(#s_a22)"/>
<path d="M2038,608 C1700,630 1450,660 1350,677" stroke="#b51178" marker-end="url(#s_a22)"/>
<path d="M2038,606 C1600,620 1200,650 1020,695" stroke="#b51178" marker-end="url(#s_a22)"/>
<!-- a3.5 -->
<path d="M3502,620 C3200,760 2200,800 1322,882" stroke="#b42932" marker-end="url(#s_a35)"/>
<!-- row7 -> row8 -->
<path d="M557,712 L896,782" stroke="#2a16cc" stroke-width="8" marker-end="url(#l_a30v)"/>
<path d="M965,725 L965,773" stroke="#14eec4" stroke-width="3" marker-end="url(#m_a30k)"/>
<path d="M1108,725 L1014,775" stroke="#ac5012" stroke-width="3" marker-end="url(#m_a30q)"/>
<path d="M1352,722 C1500,760 1650,775 1771,792" stroke="#6e1a46" stroke-width="3" marker-end="url(#m_a36q)"/>
<path d="M2028,725 L1866,780" stroke="#9c2428" stroke-width="3" marker-end="url(#m_a36k)"/>
<path d="M2746,708 L1892,790" stroke="#5a5a0b" stroke-width="10" marker-end="url(#l_a36v)"/>
<path d="M1452,725 L1483,773" stroke="#3f6f53" marker-end="url(#s_a37k)"/>
<path d="M1557,725 L1522,773" stroke="#a05575" marker-end="url(#s_a37q)"/>
<path d="M1662,725 L1550,775" stroke="#1a61b0" marker-end="url(#s_a37v)"/>
<!-- row8 -> resid -->
<path d="M1014,812 L1154,863" stroke="#4480a5" stroke-width="6" marker-end="url(#l_a30)"/>
<path d="M1457,815 L1317,870" stroke="#21e1e8" marker-end="url(#s_a37)"/>
<path d="M1773,805 L1348,876" stroke="#84ef20" stroke-width="8" marker-end="url(#l_a36)"/>
</g>
<g id="nodes">
<g id="n_embed" class="n"><rect x="2071" y="5" width="84" height="48" rx="15" fill="#45e9f0"/><text x="2113" y="29">embed</text></g>
<g id="n_a0_3_q" class="n"><rect x="788" y="101" width="114" height="48" rx="15" fill="#a89a6c"/><text x="845" y="125">&lt;a0.3_q&gt;</text></g>
<g id="n_a0_2_v" class="n"><rect x="979" y="101" width="114" height="48" rx="15" fill="#cdae7d"/><text x="1036" y="125">&lt;a0.2_v&gt;</text></g>
<g id="n_a0_2_k" class="n"><rect x="1118" y="101" width="114" height="48" rx="15" fill="#bb7fd4"/><text x="1175" y="125">&lt;a0.2_k&gt;</text></g>
<g id="n_a0_1_q" class="n"><rect x="1308" y="101" width="114" height="48" rx="15" fill="#76200c"/><text x="1365" y="125">&lt;a0.1_q&gt;</text></g>
<g id="n_a0_1_k" class="n"><rect x="1448" y="101" width="114" height="48" rx="15" fill="#a646d9"/><text x="1505" y="125">&lt;a0.1_k&gt;</text></g>
<g id="n_a0_1_v" class="n"><rect x="1587" y="101" width="114" height="48" rx="15" fill="#50dd14"/><text x="1644" y="125">&lt;a0.1_v&gt;</text></g>
<g id="n_a0_0_v" class="n"><rect x="1776" y="101" width="114" height="48" rx="15" fill="#bcf4a8"/><text x="1833" y="125">&lt;a0.0_v&gt;</text></g>
<g id="n_a0_0_q" class="n"><rect x="1916" y="101" width="114" height="48" rx="15" fill="#8ed8b2"/><text x="1973" y="125">&lt;a0.0_q&gt;</text></g>
<g id="n_a0_0_k" class="n"><rect x="2056" y="101" width="114" height="48" rx="15" fill="#f06654"/><text x="2113" y="125">&lt;a0.0_k&gt;</text></g>
<g id="n_a0_5_v" class="n"><rect x="2297" y="101" width="114" height="48" rx="15" fill="#176721"/><text x="2354" y="125">&lt;a0.5_v&gt;</text></g>
<g id="n_a0_5_q" class="n"><rect x="2436" y="101" width="114" height="48" rx="15" fill="#86c670"/><text x="2493" y="125">&lt;a0.5_q&gt;</text></g>
<g id="n_a0_5_k" class="n"><rect x="2576" y="101" width="114" height="48" rx="15" fill="#6610d0"/><text x="2633" y="125">&lt;a0.5_k&gt;</text></g>
<g id="n_a0_3" class="n"><rect x="802.5" y="197" width="95" height="48" rx="15" fill="#0ca22c"/><text x="850" y="221">&lt;a0.3&gt;</text></g>
<g id="n_a0_2" class="n"><rect x="982.5" y="197" width="95" height="48" rx="15" fill="#0ce64a"/><text x="1030" y="221">&lt;a0.2&gt;</text></g>
<g id="n_a0_7" class="n"><rect x="1118.5" y="197" width="95" height="48" rx="15" fill="#819f51"/><text x="1166" y="221">&lt;a0.7&gt;</text></g>
<g id="n_a0_1" class="n"><rect x="1457.5" y="197" width="95" height="48" rx="15" fill="#120d02"/><text x="1505" y="221">&lt;a0.1&gt;</text></g>
<g id="n_a0_0" class="n"><rect x="1918.5" y="197" width="95" height="48" rx="15" fill="#6285c0"/><text x="1966" y="221">&lt;a0.0&gt;</text></g>
<g id="n_a0_5" class="n"><rect x="2446.5" y="197" width="95" height="48" rx="15" fill="#e8f28a"/><text x="2494" y="221">&lt;a0.5&gt;</text></g>
<g id="n_a2_2_v" class="n"><rect x="3231" y="197" width="114" height="48" rx="15" fill="#8b6a3e"/><text x="3288" y="221">&lt;a2.2_v&gt;</text></g>
<g id="n_a3_5_v" class="n"><rect x="3570" y="197" width="114" height="48" rx="15" fill="#95f533"/><text x="3627" y="221">&lt;a3.5_v&gt;</text></g>
<g id="n_a1_2_q" class="n"><rect x="654" y="293" width="114" height="48" rx="15" fill="#2a7a8b"/><text x="711" y="317">&lt;a1.2_q&gt;</text></g>
<g id="n_a1_5_v" class="n"><rect x="896" y="293" width="114" height="48" rx="15" fill="#ea7fae"/><text x="953" y="317">&lt;a1.5_v&gt;</text></g>
<g id="n_a1_2_v" class="n"><rect x="1136" y="293" width="114" height="48" rx="15" fill="#2a8fab"/><text x="1193" y="317">&lt;a1.2_v&gt;</text></g>
<g id="n_a1_4_q" class="n"><rect x="1276" y="293" width="114" height="48" rx="15" fill="#f05e36"/><text x="1333" y="317">&lt;a1.4_q&gt;</text></g>
<g id="n_a2_1_k" class="n"><rect x="1416" y="293" width="114" height="48" rx="15" fill="#2a0a16"/><text x="1473" y="317">&lt;a2.1_k&gt;</text></g>
<g id="n_a1_4_v" class="n"><rect x="1758" y="293" width="114" height="48" rx="15" fill="#3bd8de"/><text x="1815" y="317">&lt;a1.4_v&gt;</text></g>
<g id="n_a2_0_q" class="n"><rect x="2202" y="293" width="114" height="48" rx="15" fill="#c4d5b6"/><text x="2259" y="317">&lt;a2.0_q&gt;</text></g>
<g id="n_a1_0_q" class="n"><rect x="2596" y="293" width="114" height="48" rx="15" fill="#ecedab"/><text x="2653" y="317">&lt;a1.0_q&gt;</text></g>
<g id="n_a1_0_v" class="n"><rect x="2736" y="293" width="114" height="48" rx="15" fill="#c0c190"/><text x="2793" y="317">&lt;a1.0_v&gt;</text></g>
<g id="n_a1_0_k" class="n"><rect x="2977" y="293" width="114" height="48" rx="15" fill="#5fbd30"/><text x="3034" y="317">&lt;a1.0_k&gt;</text></g>
<g id="n_a1_5" class="n"><rect x="681.5" y="389" width="95" height="48" rx="15" fill="#137550"/><text x="729" y="413">&lt;a1.5&gt;</text></g>
<g id="n_a1_2" class="n"><rect x="947.5" y="389" width="95" height="48" rx="15" fill="#29ea1c"/><text x="995" y="413">&lt;a1.2&gt;</text></g>
<g id="n_a1_4" class="n"><rect x="1364.5" y="389" width="95" height="48" rx="15" fill="#1a6fbf"/><text x="1412" y="413">&lt;a1.4&gt;</text></g>
<g id="n_a1_7" class="n"><rect x="1482.5" y="389" width="95" height="48" rx="15" fill="#f5a9ee"/><text x="1530" y="413">&lt;a1.7&gt;</text></g>
<g id="n_a1_6" class="n"><rect x="1601.5" y="389" width="95" height="48" rx="15" fill="#66a3cf"/><text x="1649" y="413">&lt;a1.6&gt;</text></g>
<g id="n_a1_3" class="n"><rect x="1719.5" y="389" width="95" height="48" rx="15" fill="#468c91"/><text x="1767" y="413">&lt;a1.3&gt;</text></g>
<g id="n_a1_0" class="n"><rect x="2651.5" y="389" width="95" height="48" rx="15" fill="#8d6cc8"/><text x="2699" y="413">&lt;a1.0&gt;</text></g>
<g id="n_a2_3_v" class="n"><rect x="499" y="485" width="114" height="48" rx="15" fill="#d7c0e0"/><text x="556" y="509">&lt;a2.3_v&gt;</text></g>
<g id="n_a2_5_v" class="n"><rect x="637" y="485" width="114" height="48" rx="15" fill="#0a7fa3"/><text x="694" y="509">&lt;a2.5_v&gt;</text></g>
<g id="n_a2_1_v" class="n"><rect x="928" y="485" width="114" height="48" rx="15" fill="#7ef9ef"/><text x="985" y="509">&lt;a2.1_v&gt;</text></g>
<g id="n_a2_1_q" class="n"><rect x="1117" y="485" width="114" height="48" rx="15" fill="#c3455f"/><text x="1174" y="509">&lt;a2.1_q&gt;</text></g>
<g id="n_a3_5_k" class="n"><rect x="1309" y="485" width="114" height="48" rx="15" fill="#3531b3"/><text x="1366" y="509">&lt;a3.5_k&gt;</text></g>
<g id="n_a2_3_q" class="n"><rect x="1449" y="485" width="114" height="48" rx="15" fill="#659834"/><text x="1506" y="509">&lt;a2.3_q&gt;</text></g>
<g id="n_a2_7_v" class="n"><rect x="1691" y="485" width="114" height="48" rx="15" fill="#77c38c"/><text x="1748" y="509">&lt;a2.7_v&gt;</text></g>
<g id="n_a2_2_k" class="n"><rect x="1829" y="485" width="114" height="48" rx="15" fill="#3a87c9"/><text x="1886" y="509">&lt;a2.2_k&gt;</text></g>
<g id="n_a2_6_v" class="n"><rect x="2018" y="485" width="114" height="48" rx="15" fill="#f8b65e"/><text x="2075" y="509">&lt;a2.6_v&gt;</text></g>
<g id="n_a2_0_k" class="n"><rect x="2359" y="485" width="114" height="48" rx="15" fill="#f0fc3c"/><text x="2416" y="509">&lt;a2.0_k&gt;</text></g>
<g id="n_a2_0_v" class="n"><rect x="2600" y="485" width="114" height="48" rx="15" fill="#d6c5fa"/><text x="2657" y="509">&lt;a2.0_v&gt;</text></g>
<g id="n_a2_2_q" class="n"><rect x="2944" y="485" width="114" height="48" rx="15" fill="#5e6e31"/><text x="3001" y="509">&lt;a2.2_q&gt;</text></g>
<g id="n_a3_5_q" class="n"><rect x="3498" y="485" width="114" height="48" rx="15" fill="#633f86"/><text x="3555" y="509">&lt;a3.5_q&gt;</text></g>
<g id="n_a2_3" class="n"><rect x="979.5" y="581" width="95" height="48" rx="15" fill="#8f8bbf"/><text x="1027" y="605">&lt;a2.3&gt;</text></g>
<g id="n_a2_7" class="n"><rect x="1150.5" y="581" width="95" height="48" rx="15" fill="#1f8a5c"/><text x="1198" y="605">&lt;a2.7&gt;</text></g>
<g id="n_a2_5" class="n"><rect x="1267.5" y="581" width="95" height="48" rx="15" fill="#f93522"/><text x="1315" y="605">&lt;a2.5&gt;</text></g>
<g id="n_a2_1" class="n"><rect x="1387.5" y="581" width="95" height="48" rx="15" fill="#16e0a6"/><text x="1435" y="605">&lt;a2.1&gt;</text></g>
<g id="n_a2_6" class="n"><rect x="1557.5" y="581" width="95" height="48" rx="15" fill="#e326f4"/><text x="1605" y="605">&lt;a2.6&gt;</text></g>
<g id="n_a2_0" class="n"><rect x="1728.5" y="581" width="95" height="48" rx="15" fill="#b0bb48"/><text x="1776" y="605">&lt;a2.0&gt;</text></g>
<g id="n_a2_2" class="n"><rect x="2037.5" y="581" width="95" height="48" rx="15" fill="#b51178"/><text x="2085" y="605">&lt;a2.2&gt;</text></g>
<g id="n_a3_5" class="n"><rect x="3501.5" y="581" width="95" height="48" rx="15" fill="#b42932"/><text x="3549" y="605">&lt;a3.5&gt;</text></g>
<g id="n_a3_0_v" class="n"><rect x="443" y="677" width="114" height="48" rx="15" fill="#2a16cc"/><text x="500" y="701">&lt;a3.0_v&gt;</text></g>
<g id="n_a3_0_k" class="n"><rect x="906" y="677" width="114" height="48" rx="15" fill="#14eec4"/><text x="963" y="701">&lt;a3.0_k&gt;</text></g>
<g id="n_a3_0_q" class="n"><rect x="1097" y="677" width="114" height="48" rx="15" fill="#ac5012"/><text x="1154" y="701">&lt;a3.0_q&gt;</text></g>
<g id="n_a3_6_q" class="n"><rect x="1238" y="677" width="114" height="48" rx="15" fill="#6e1a46"/><text x="1295" y="701">&lt;a3.6_q&gt;</text></g>
<g id="n_a3_7_k" class="n"><rect x="1377" y="677" width="114" height="48" rx="15" fill="#3f6f53"/><text x="1434" y="701">&lt;a3.7_k&gt;</text></g>
<g id="n_a3_7_q" class="n"><rect x="1518" y="677" width="114" height="48" rx="15" fill="#a05575"/><text x="1575" y="701">&lt;a3.7_q&gt;</text></g>
<g id="n_a3_7_v" class="n"><rect x="1657" y="677" width="114" height="48" rx="15" fill="#1a61b0"/><text x="1714" y="701">&lt;a3.7_v&gt;</text></g>
<g id="n_a3_6_k" class="n"><rect x="2028" y="677" width="114" height="48" rx="15" fill="#9c2428"/><text x="2085" y="701">&lt;a3.6_k&gt;</text></g>
<g id="n_a3_6_v" class="n"><rect x="2746" y="677" width="114" height="48" rx="15" fill="#5a5a0b"/><text x="2803" y="701">&lt;a3.6_v&gt;</text></g>
<g id="n_a3_0" class="n"><rect x="919.5" y="773" width="95" height="48" rx="15" fill="#4480a5"/><text x="967" y="797">&lt;a3.0&gt;</text></g>
<g id="n_a3_7" class="n"><rect x="1455.5" y="773" width="95" height="48" rx="15" fill="#21e1e8"/><text x="1503" y="797">&lt;a3.7&gt;</text></g>
<g id="n_a3_6" class="n"><rect x="1771.5" y="773" width="95" height="48" rx="15" fill="#84ef20"/><text x="1819" y="797">&lt;a3.6&gt;</text></g>
<g id="n_resid_post" class="n"><rect x="1172.5" y="869" width="147" height="48" rx="15" fill="#8a1a5e"/><text x="1246" y="893">&lt;resid_post&gt;</text></g>
</g>
</svg>
